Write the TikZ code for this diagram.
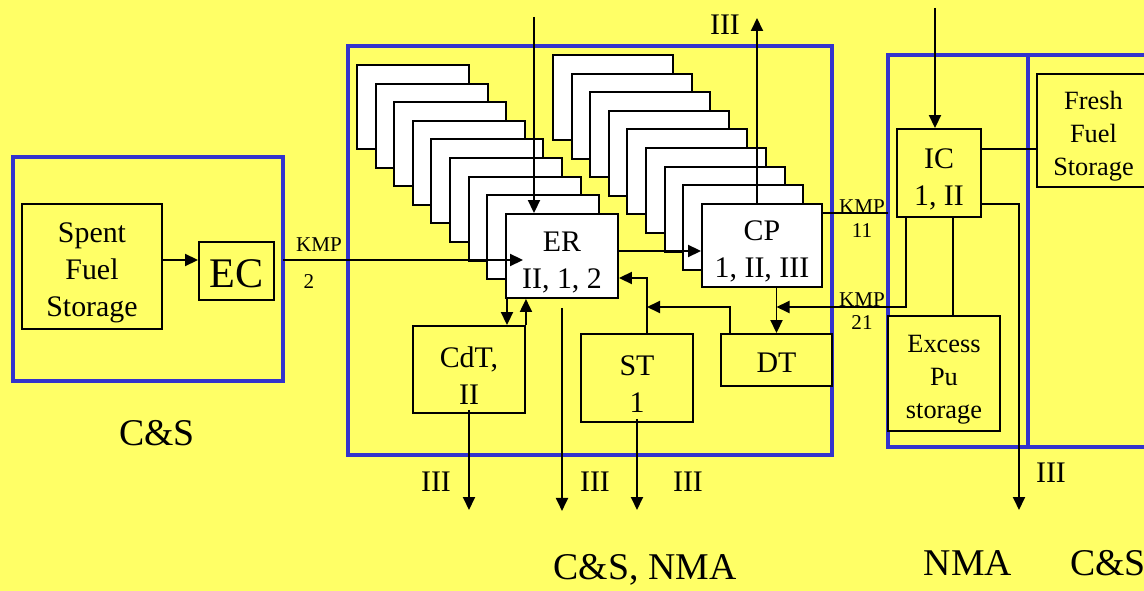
\documentclass[tikz,border=0pt]{standalone}
\usepackage{fontspec}
\setmainfont{Liberation Serif}
\usepackage{xcolor}
\usetikzlibrary{arrows.meta,calc}
\definecolor{bgyellow}{RGB}{255,255,102}
\definecolor{zoneblue}{RGB}{51,51,204}
% pushes the text of a box a little lower
\newcommand{\topgap}[1][1.08em]{\rule{0pt}{#1}}

\tikzset{
  box/.style={draw, line width=1.1pt, fill=bgyellow, inner sep=0pt, align=center,
    font=\fontsize{17}{21}\selectfont},
  wbox/.style={box, fill=white},
  zone/.style={draw=zoneblue, line width=2.3pt},
  ln/.style={line width=1.1pt},
  arr/.style={ln, -{Triangle[length=0.26cm,width=0.24cm]}},
  kmp/.style={font=\fontsize{12}{13}\selectfont, inner sep=0pt},
  lvl/.style={font=\fontsize{17}{18}\selectfont, inner sep=0pt},
  area/.style={font=\fontsize{21.5}{22}\selectfont, inner sep=0pt}
}

\begin{document}
\begin{tikzpicture}[x=0.02cm, y=-0.02cm]
    % Page and background
    \useasboundingbox (0,0) rectangle (1144,591);
    \clip (0,0) rectangle (1144,591);
    \fill[bgyellow] (0,0) rectangle (1144,591);

    % Blue zones
    \draw[zone] (13,157) rectangle (283,381);
    \draw[zone] (348,46) rectangle (832,455);
    \draw[zone] (888,55) rectangle (1028,447);
    \draw[zone] (1028,55) rectangle (1170,447);

    % Stacked cells behind ER and CP
    \foreach \i in {0,...,7}
        \draw[ln, fill=white] (357+18.6*\i, 65+18.6*\i) rectangle ++(112,84);
    \foreach \i in {0,...,7}
        \draw[ln, fill=white] (553+18.6*\i, 55+18.6*\i) rectangle ++(120,85);

    % Boxes
    \node[box, minimum width=2.8cm, minimum height=2.5cm] (sfs) at (92,266.5) {\topgap Spent\\Fuel\\Storage};
    \node[box, minimum width=1.5cm, minimum height=1.16cm, font=\fontsize{24}{26}\selectfont] (ec) at (236.5,271) {\topgap[0.8em]EC};
    \node[wbox, minimum width=2.24cm, minimum height=1.68cm] (er) at (562,256) {\topgap ER\\II, 1, 2};
    \node[wbox, minimum width=2.4cm, minimum height=1.66cm] (cp) at (762,245.5) {\topgap CP\\1, II, III};
    \node[box, minimum width=2.24cm, minimum height=1.74cm] (cdt) at (469,369.5) {\topgap CdT,\\II};
    \node[box, minimum width=2.24cm, minimum height=1.76cm] (st) at (637,378) {\topgap ST\\1};
    \node[box, minimum width=2.22cm, minimum height=1.04cm] (dt) at (776.5,360) {\topgap[0.85em]DT};
    \node[box, minimum width=1.68cm, minimum height=1.76cm] (ic) at (939,173) {\topgap IC\\1, II};
    \node[box, minimum width=2.26cm, minimum height=2.26cm, font=\fontsize{15}{19}\selectfont] (ffs) at (1093.5,130.5) {\topgap[1.12em]Fresh\\Fuel\\Storage};
    \node[box, minimum width=2.24cm, minimum height=2.3cm, font=\fontsize{15}{19}\selectfont] (xpu) at (944,373.5) {\topgap[1.12em]Excess\\Pu\\storage};

    % Free ends
    \coordinate (kmp2) at (283,260);
    \coordinate (erin) at (534,17);
    \coordinate (cpout) at (757,18);
    \coordinate (kmp11) at (888,213);
    \coordinate (junc) at (647,307);
    \coordinate (icin) at (935,8);

    % Connectors
    \draw[arr] (sfs.east |- 0,260) -- (ec.west |- 0,260);
    \draw[arr] (kmp2) -- ($(er.west |- kmp2)+(18,0)$);
    \draw[arr] (erin) -- (erin |- er.north);
    \draw[arr] (er.east |- 0,251) -- (cp.west |- 0,251);
    \draw[arr] (cpout |- cp.north) -- (cpout);
    \draw[ln] (cp.east |- kmp11) -- (kmp11);
    \draw[arr] (dt.north |- cp.south) -- (dt.north);
    \draw[arr] (ic.south -| 906,0) |- (dt.north |- junc);
    \draw[arr] (dt.north -| 730,0) |- (junc);
    \draw[arr] (st.north -| junc) |- (er.east |- 0,278);
    \draw[arr] (er.south -| 507,0) -- (cdt.north -| 507,0);
    \draw[arr] (cdt.north east) -- (cdt.north east |- er.south);
    \draw[arr] ($(er.south)+(0,9)$) -- ++(0,203);
    \draw[arr] ($(cdt.south)+(0,-4)$) -- (cdt.south |- 0,510);
    \draw[arr] ($(st.south)+(0,-4)$) -- (st.south |- 0,510);
    \draw[arr] (icin) -- (icin |- ic.north);
    \draw[ln] (ic.east |- 0,149) -- (ffs.west |- 0,149);
    \draw[arr] (ic.east |- 0,204) -| (1019,510);
    \draw[ln] (ic.south -| 953,0) -- (xpu.north -| 953,0);

    % KMP labels
    \node[kmp] (k2a) at (319,245) {KMP};
    \node[kmp] (k2b) at (309,282) {2};
    \node[kmp] (k11a) at (862,207) {KMP};
    \node[kmp] (k11b) at (862,231) {11};
    \node[kmp] (k21a) at (862,300) {KMP};
    \node[kmp] (k21b) at (862,323) {21};

    % Level labels
    \node[lvl] (l1) at (725,25) {III};
    \node[lvl] (l2) at (436,482) {III};
    \node[lvl] (l3) at (595,482) {III};
    \node[lvl] (l4) at (688,482) {III};
    \node[lvl] (l5) at (1051,473) {III};

    % Area labels
    \node[area] (a1) at (157,433) {C\&S};
    \node[area] (a2) at (645,570) {C\&S, NMA};
    \node[area] (a3) at (968,563) {NMA};
    \node[area, anchor=west] (a4) at (1070,563) {C\&S};
\end{tikzpicture}
\end{document}
